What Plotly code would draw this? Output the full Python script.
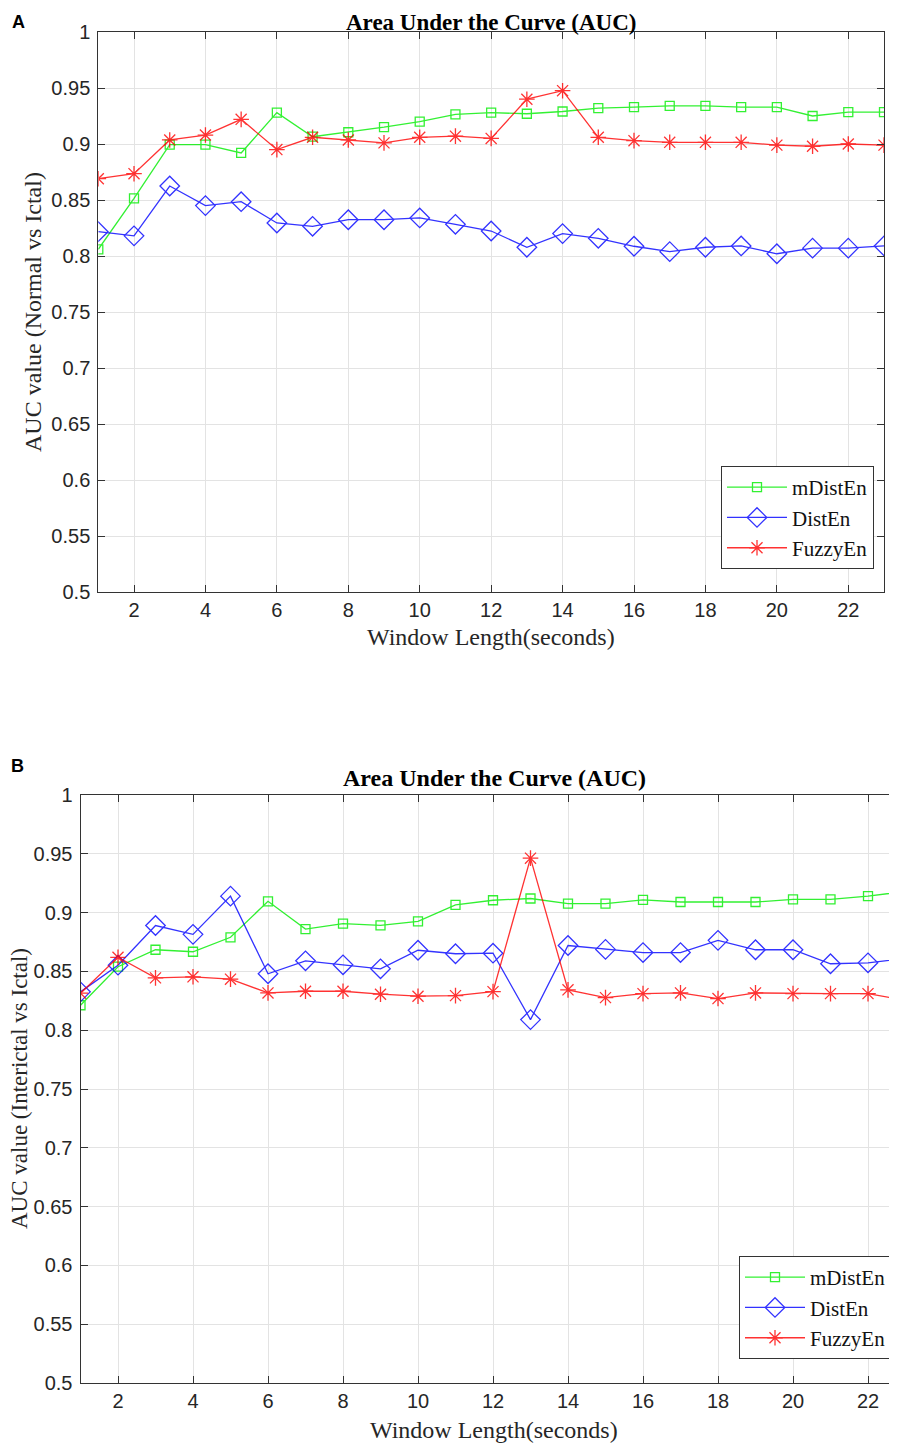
import plotly.graph_objects as go

window_len = list(range(1, 24))

# Panel A: Normal vs Ictal
a_mdisten = [0.806, 0.8515, 0.8995, 0.8995, 0.892, 0.928, 0.9065, 0.9105, 0.915, 0.920, 0.9265, 0.928,
             0.927, 0.929, 0.932, 0.933, 0.934, 0.934, 0.933, 0.933, 0.925, 0.9285, 0.9285]
a_disten = [0.8217, 0.818, 0.8625, 0.845, 0.8485, 0.8295, 0.8265, 0.8324, 0.8324, 0.834, 0.8283, 0.8223,
            0.8078, 0.820, 0.8158, 0.8087, 0.8039, 0.8078, 0.809, 0.802, 0.807, 0.807, 0.809]
a_fuzzyen = [0.869, 0.8735, 0.9036, 0.908, 0.922, 0.895, 0.906, 0.9036, 0.901, 0.906, 0.907, 0.905,
             0.940, 0.9476, 0.906, 0.903, 0.9015, 0.9015, 0.9015, 0.899, 0.898, 0.900, 0.899]

# Panel B: Interictal vs Ictal
b_mdisten = [0.8212, 0.854, 0.8684, 0.8667, 0.879, 0.9096, 0.886, 0.8906, 0.8892, 0.8926, 0.9065, 0.9105,
             0.912, 0.9077, 0.9077, 0.9108, 0.909, 0.909, 0.909, 0.9113, 0.9113, 0.914, 0.918]
b_disten = [0.8326, 0.8553, 0.889, 0.8815, 0.914, 0.848, 0.859, 0.8556, 0.8522, 0.868, 0.865, 0.8655,
            0.809, 0.872, 0.8687, 0.866, 0.866, 0.8764, 0.8684, 0.8684, 0.8565, 0.8573, 0.861]
b_fuzzyen = [0.8315, 0.862, 0.8445, 0.8454, 0.8434, 0.8317, 0.8331, 0.8331, 0.8306, 0.8289, 0.8294, 0.8328,
             0.9463, 0.8343, 0.8277, 0.8311, 0.8317, 0.8269, 0.8317, 0.8311, 0.8311, 0.8311, 0.8253]

series_names = ["mDistEn", "DistEn", "FuzzyEn"]
title_text = "Area Under the Curve (AUC)"
xlabel = "Window Length(seconds)"
ylabel_a = "AUC value (Normal vs Ictal)"
ylabel_b = "AUC value (Interictal vs Ictal)"
y_ticks = [0.5, 0.55, 0.6, 0.65, 0.7, 0.75, 0.8, 0.85, 0.9, 0.95, 1]
y_ticklabels = ["0.5", "0.55", "0.6", "0.65", "0.7", "0.75", "0.8", "0.85", "0.9", "0.95", "1"]
x_ticks = [2, 4, 6, 8, 10, 12, 14, 16, 18, 20, 22]

# page body has an 8px margin; the figure is sized so it ends at the window edge
OFF = 8
W, H = 897 - OFF, 1448 - OFF
colors = ["#00ee00", "#0000ff", "#ff0000"]
symbols = ["square-open", "diamond-open", "asterisk-open"]
msizes = [9, 15, 13]

fig = go.Figure()

def add_panel(vals, xa, ya, legend):
    for name, v, c, s, ms in zip(series_names, vals, colors, symbols, msizes):
        fig.add_trace(go.Scatter(
            x=window_len, y=v, name=name, mode="lines+markers",
            line=dict(color=c, width=1.3),
            marker=dict(symbol=s, size=ms, color=c, line=dict(color=c, width=1.3)),
            xaxis=xa, yaxis=ya, legend=legend, opacity=0.8))

add_panel([a_mdisten, a_disten, a_fuzzyen], "x", "y", "legend")
add_panel([b_mdisten, b_disten, b_fuzzyen], "x2", "y2", "legend2")

def px(x):
    return (x - OFF) / W

def py(y):
    return 1 - (y - OFF) / H

axis_col = "#333333"
grid_col = "#e3e3e3"
tickfont = dict(family="Liberation Sans, Arial", size=20, color="#262626")

common_x = dict(tickmode="array", tickvals=x_ticks, ticks="inside", ticklen=7,
                tickcolor=axis_col, showline=True, linecolor=axis_col, linewidth=1,
                showgrid=True, gridcolor=grid_col, gridwidth=1, zeroline=False,
                tickfont=tickfont, automargin=False)
common_y = dict(tickmode="array", tickvals=y_ticks, ticktext=y_ticklabels, range=[0.5, 1],
                ticks="inside", ticklen=7, tickcolor=axis_col, showline=True,
                linecolor=axis_col, linewidth=1, showgrid=True, gridcolor=grid_col,
                gridwidth=1, zeroline=False, tickfont=tickfont, automargin=False,
                ticklabelstandoff=3)

# Panel A axes: plot box x 98..884, y 32..592
fig.update_layout(
    xaxis=dict(domain=[px(98.3), px(884)], range=[1, 23], anchor="y", mirror="ticks", **common_x),
    yaxis=dict(domain=[py(592), py(32)], anchor="x", mirror="ticks", **common_y),
    # Panel B axes: x=1 at 80.5, 37.5 px per unit, clipped at right edge
    xaxis2=dict(domain=[px(80.5), 1.0], range=[1, 1 + (897 - 80.5) / 37.5], anchor="y2",
                mirror="ticks", **common_x),
    yaxis2=dict(domain=[py(1383), py(795)], anchor="x2", mirror=False, **common_y),
)

legend_common = dict(bgcolor="white", bordercolor=axis_col, borderwidth=1,
                     font=dict(family="Liberation Serif, Times New Roman", size=21, color="#111111"),
                     itemwidth=60, tracegroupgap=0)
fig.update_layout(
    legend=dict(x=px(874), y=py(569), xanchor="right", yanchor="bottom", **legend_common),
    legend2=dict(x=px(892), y=py(1359), xanchor="right", yanchor="bottom", **legend_common),
)

title_font = dict(family="Liberation Serif, Times New Roman", size=24, color="black")
label_font = dict(family="Liberation Serif, Times New Roman", size=24, color="#262626")
panel_font = dict(family="Liberation Sans, Arial", size=18, color="black")

annotations = [
    dict(text="<b>" + title_text + "</b>", x=px(491), y=py(8), font=dict(title_font, size=23),
         yanchor="top"),
    dict(text="<b>" + title_text + "</b>", x=px(494), y=py(778), font=title_font),
    dict(text=xlabel, x=px(491), y=py(637), font=label_font),
    dict(text=xlabel, x=px(494), y=py(1430), font=label_font),
    dict(text=ylabel_a, x=px(33), y=py(312), font=label_font, textangle=-90),
    dict(text=ylabel_b, x=px(19), y=py(1089), font=dict(label_font, size=23), textangle=-90),
    dict(text="<b>A</b>", x=px(18), y=py(22), font=panel_font),
    dict(text="<b>B</b>", x=px(17), y=py(766), font=panel_font),
]
for a in annotations:
    a.setdefault("xanchor", "center")
    a.setdefault("yanchor", "middle")
    a.update(xref="paper", yref="paper", showarrow=False)
fig.update_layout(annotations=annotations)

fig.update_layout(width=W, height=H, margin=dict(l=0, r=0, t=0, b=0, autoexpand=False),
                  paper_bgcolor="white", plot_bgcolor="white", showlegend=True)

fig.write_html("out.html")
